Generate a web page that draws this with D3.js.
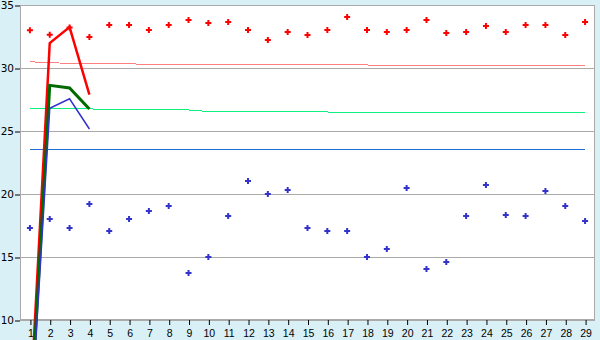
<!DOCTYPE html>
<html>
<head>
<meta charset="utf-8">
<script src="https://cdn.jsdelivr.net/npm/d3@7"></script>
<style>
  body { margin: 0; background: #daf0f7; }
  svg { display: block; }
</style>
</head>
<body>
<svg id="chart" width="600" height="340"></svg>
<script>
// Categories (x axis)
const categories = d3.range(1, 30);

// Marker series
const upperPoints = [33.0, 32.64, 33.22, 32.46, 33.41, 33.41, 33.02, 33.41, 33.81, 33.57,
  33.65, 33.02, 32.22, 32.86, 32.62, 33.02, 34.05, 33.02, 32.86, 33.02,
  33.81, 32.78, 32.86, 33.33, 32.86, 33.41, 33.41, 32.62, 33.65];
const lowerPoints = [17.3, 18.02, 17.3, 19.2, 17.06, 18.02, 18.65, 19.05, 13.73, 15.0,
  18.25, 21.03, 20.0, 20.32, 17.3, 17.06, 17.06, 15.0, 15.63, 20.48,
  14.05, 14.6, 18.25, 20.71, 18.33, 18.25, 20.24, 19.05, 17.86];

// Thin reference lines
const pinkLine = [30.48, 30.46, 30.33, 30.32, 30.32, 30.32, 30.31, 30.31, 30.31, 30.3,
  30.24, 30.24, 30.24, 30.24, 30.24, 30.24, 30.24, 30.24, 30.16, 30.16,
  30.16, 30.16, 30.16, 30.16, 30.16, 30.16, 30.16, 30.16, 30.16];
const greenLine = [26.77, 26.77, 26.77, 26.76, 26.67, 26.67, 26.67, 26.67, 26.67, 26.55,
  26.51, 26.51, 26.51, 26.51, 26.51, 26.51, 26.43, 26.43, 26.43, 26.43,
  26.43, 26.43, 26.43, 26.43, 26.43, 26.43, 26.43, 26.43, 26.43];
const blueLine = categories.map(() => 23.57);

// Thick short lines (first four categories)
const redThick = [2.5, 31.98, 33.25, 27.88];
const greenThick = [1.5, 28.62, 28.41, 26.75];
const blueThick = [0.5, 26.8, 27.56, 25.16];

const yTicks = [10, 15, 20, 25, 30, 35];

const svg = d3.select("#chart");
const margin = { top: 5, right: 5, bottom: 20, left: 20 };
const W = 600, H = 340;

const x = d3.scalePoint().domain(categories).range([margin.left, W - margin.right]).padding(0.5);
const y = d3.scaleLinear().domain([10, 35]).range([H - margin.bottom, margin.top]);

svg.append("rect").attr("width", W).attr("height", H).attr("fill", "#daf0f7");

svg.append("rect")
  .attr("x", margin.left).attr("y", margin.top)
  .attr("width", W - margin.left - margin.right)
  .attr("height", H - margin.top - margin.bottom)
  .attr("fill", "#fff");

// gridlines
svg.append("g").selectAll("line")
  .data(yTicks)
  .enter().append("line")
  .attr("x1", margin.left).attr("x2", W - margin.right)
  .attr("y1", d => y(d) + 0.5).attr("y2", d => y(d) + 0.5)
  .attr("stroke", "#aaa");

// frame
svg.append("rect")
  .attr("x", margin.left + 0.5).attr("y", margin.top + 0.5)
  .attr("width", W - margin.left - margin.right - 1)
  .attr("height", H - margin.top - margin.bottom - 1)
  .attr("fill", "none").attr("stroke", "#aaa");

// axes
const yAxis = svg.append("g")
  .attr("transform", `translate(${margin.left},0.5)`)
  .call(d3.axisLeft(y).tickValues(yTicks).tickSize(5).tickPadding(1));
yAxis.select(".domain").remove();
yAxis.selectAll("text").attr("font-family", "DejaVu Sans").attr("font-size", 10.5).attr("fill", "#000");

const xAxis = svg.append("g")
  .attr("transform", `translate(0.5,${H - margin.bottom})`)
  .call(d3.axisBottom(x).tickSize(5).tickPadding(5));
xAxis.select(".domain").remove();
xAxis.selectAll("text").attr("font-family", "Liberation Sans").attr("font-size", 10.5).attr("fill", "#000");

const line = d3.line()
  .x((d, i) => x(categories[i]))
  .y(d => y(d));

// thin lines
svg.append("path").datum(pinkLine).attr("d", line)
  .attr("fill", "none").attr("stroke", "#ff8080").attr("stroke-width", 1)
  .attr("shape-rendering", "crispEdges");
svg.append("path").datum(greenLine).attr("d", line)
  .attr("fill", "none").attr("stroke", "#10f080").attr("stroke-width", 1)
  .attr("shape-rendering", "crispEdges");
svg.append("path").datum(blueLine).attr("d", line)
  .attr("fill", "none").attr("stroke", "#1e70d8").attr("stroke-width", 1)
  .attr("shape-rendering", "crispEdges");

// markers
const marker = d3.symbol().type(d3.symbolCross).size(20);
svg.append("g").selectAll("path")
  .data(upperPoints)
  .enter().append("path")
  .attr("d", marker)
  .attr("transform", (d, i) => `translate(${x(categories[i])},${y(d)})`)
  .attr("fill", "#ff0000");
svg.append("g").selectAll("path")
  .data(lowerPoints)
  .enter().append("path")
  .attr("d", marker)
  .attr("transform", (d, i) => `translate(${x(categories[i])},${y(d)})`)
  .attr("fill", "#3333cc");

// thick lines
svg.append("path").datum(redThick).attr("d", line)
  .attr("fill", "none").attr("stroke", "#ff0000").attr("stroke-width", 2.5);
svg.append("path").datum(greenThick).attr("d", line)
  .attr("fill", "none").attr("stroke", "#006a00").attr("stroke-width", 3);
svg.append("path").datum(blueThick).attr("d", line)
  .attr("fill", "none").attr("stroke", "#3333cc").attr("stroke-width", 1.5);
</script>
</body>
</html>
